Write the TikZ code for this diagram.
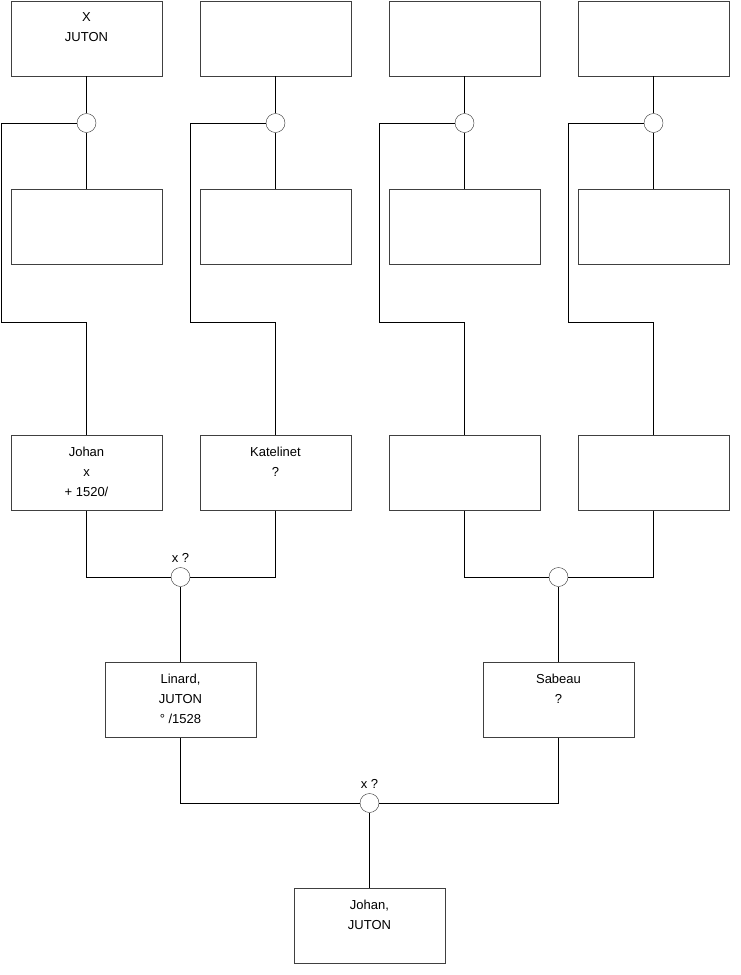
\documentclass[tikz,border=0pt]{standalone}
\usepackage{fontspec}
\setmainfont{Liberation Sans}
\usetikzlibrary{positioning}

\begin{document}
\begin{tikzpicture}[x=1pt, y=-1pt,
  pers/.style={draw=black!75, fill=white, minimum width=151pt, minimum height=75pt, inner sep=0pt},
  nm/.style={anchor=north, inner sep=0pt, label distance=-11.5pt, align=center, font=\fontsize{13}{20}\selectfont},
  mar/.style={draw=black!80, fill=white, circle, minimum size=19pt, inner sep=0pt},
  mlab/.style={inner sep=0pt, label distance=4.5pt, font=\fontsize{13}{14}\selectfont},
  ln/.style={draw=black, line width=0.8pt}
]
\useasboundingbox (0,0) rectangle (740,975);

\node[pers, label={[nm]north:X\\JUTON}] (gf1) at (86.5,38.5) {};
\node[pers] (gf2) at (275.5,38.5) {};
\node[pers] (gf3) at (464.5,38.5) {};
\node[pers] (gf4) at (653.5,38.5) {};

\node[mar] (m1) at (86.5,123) {};
\node[mar] (m2) at (275.5,123) {};
\node[mar] (m3) at (464.5,123) {};
\node[mar] (m4) at (653.5,123) {};

\node[pers] (gm1) at (86.5,227) {};
\node[pers] (gm2) at (275.5,227) {};
\node[pers] (gm3) at (464.5,227) {};
\node[pers] (gm4) at (653.5,227) {};

\coordinate (k1) at (1,322);
\coordinate (k2) at (190,322);
\coordinate (k3) at (379,322);
\coordinate (k4) at (568,322);

\node[pers, label={[nm]north:Johan\\x\\+ 1520/}] (p1) at (86.5,473) {};
\node[pers, label={[nm]north:Katelinet\\?}] (p2) at (275.5,473) {};
\node[pers] (p3) at (464.5,473) {};
\node[pers] (p4) at (653.5,473) {};

\node[mar, label={[mlab]above:x ?}] (mp1) at (180.5,577) {};
\node[mar] (mp2) at (558.5,577) {};

\node[pers, label={[nm]north:Linard,\\JUTON\\° /1528}] (f) at (180.5,700) {};
\node[pers, label={[nm]north:Sabeau\\?}] (mo) at (558.5,700) {};

\node[mar, label={[mlab]above:x ?}] (mc) at (369.5,803) {};

\node[pers, label={[nm]north:Johan,\\JUTON}] (ch) at (369.5,926) {};

\draw[ln] (gf1) -- (m1) -- (gm1);
\draw[ln] (gf2) -- (m2) -- (gm2);
\draw[ln] (gf3) -- (m3) -- (gm3);
\draw[ln] (gf4) -- (m4) -- (gm4);

\draw[ln] (m1.west) -| (k1) -| (p1.north);
\draw[ln] (m2.west) -| (k2) -| (p2.north);
\draw[ln] (m3.west) -| (k3) -| (p3.north);
\draw[ln] (m4.west) -| (k4) -| (p4.north);

\draw[ln] (p1.south) |- (mp1.west);
\draw[ln] (p2.south) |- (mp1.east);
\draw[ln] (p3.south) |- (mp2.west);
\draw[ln] (p4.south) |- (mp2.east);
\draw[ln] (mp1) -- (f);
\draw[ln] (mp2) -- (mo);

\draw[ln] (f.south) |- (mc.west);
\draw[ln] (mo.south) |- (mc.east);
\draw[ln] (mc) -- (ch);
\end{tikzpicture}
\end{document}
